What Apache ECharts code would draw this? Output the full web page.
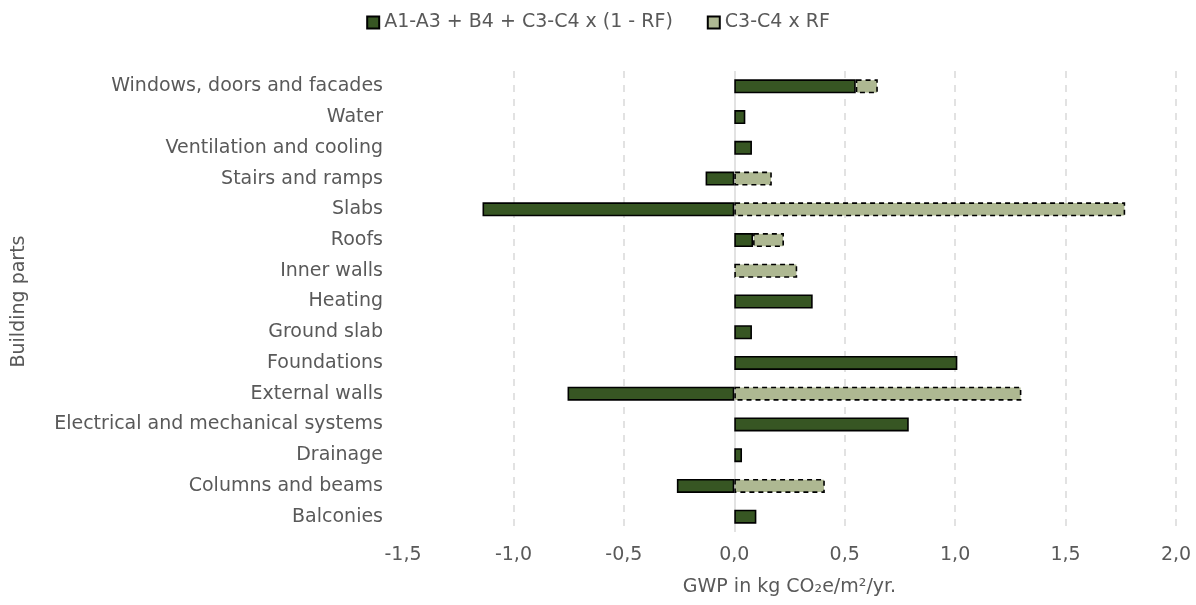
<!DOCTYPE html>
<html>
<head>
<meta charset="utf-8">
<script src="https://cdn.jsdelivr.net/npm/echarts@6/dist/echarts.min.js"></script>
<style>
  html, body { margin: 0; padding: 0; background: #fff; }
  #chart { width: 1196px; height: 605px; }
</style>
</head>
<body>
<div id="chart"></div>
<script>
// categories, top to bottom
const categories = [
  'Windows, doors and facades', 'Water', 'Ventilation and cooling', 'Stairs and ramps',
  'Slabs', 'Roofs', 'Inner walls', 'Heating', 'Ground slab', 'Foundations',
  'External walls', 'Electrical and mechanical systems', 'Drainage', 'Columns and beams', 'Balconies'
];
// A1-A3 + B4 + C3-C4 x (1 - RF)
const baseValues = [0.55, 0.05, 0.08, -0.13, -1.14, 0.085, null, 0.355, 0.08, 1.01, -0.755, 0.79, 0.035, -0.26, 0.10];
// C3-C4 x RF
const rfValues = [0.10, null, null, 0.17, 1.77, 0.14, 0.285, null, null, null, 1.30, null, null, 0.41, null];

const xTicks = { min: -1.5, max: 2.0, interval: 0.5 };

const FONT = '"DejaVu Sans", sans-serif';
const TXT = '#595959';
const FS = 19;

const chart = echarts.init(document.getElementById('chart'));

chart.setOption({
  animation: false,
  textStyle: { fontFamily: FONT },
  legend: {
    top: 8,
    left: 'center',
    icon: 'rect',
    itemWidth: 12,
    itemHeight: 12,
    itemGap: 34,
    textStyle: { fontSize: FS, color: TXT, fontFamily: FONT },
    data: ['A1-A3 + B4 + C3-C4 x (1 - RF)', 'C3-C4 x RF']
  },
  grid: { left: 403, right: 20, top: 71, bottom: 73 },
  xAxis: {
    type: 'value',
    min: xTicks.min,
    max: xTicks.max,
    interval: xTicks.interval,
    name: 'GWP in kg CO₂e/m²/yr.',
    nameLocation: 'middle',
    nameGap: 46,
    nameTextStyle: { fontSize: FS, color: TXT, fontFamily: FONT },
    axisLine: { show: false },
    axisTick: { show: false },
    axisLabel: {
      fontSize: FS, color: TXT, margin: 14,
      formatter: v => v.toFixed(1).replace('.', ',')
    },
    splitLine: {
      show: true,
      lineStyle: {
        type: [7, 7],
        width: 1.5,
        color: ['transparent', '#d9d9d9', '#d9d9d9', 'transparent', '#d9d9d9', '#d9d9d9', '#d9d9d9', '#d9d9d9']
      }
    }
  },
  yAxis: {
    type: 'category',
    inverse: true,
    data: categories,
    name: 'Building parts',
    nameLocation: 'middle',
    nameGap: 374,
    nameRotate: 90,
    nameTextStyle: { fontSize: FS, color: TXT, fontFamily: FONT },
    axisLine: { show: false },
    axisTick: { show: false },
    axisLabel: { fontSize: FS, color: TXT, margin: 20 }
  },
  series: [
    {
      name: 'A1-A3 + B4 + C3-C4 x (1 - RF)',
      type: 'bar',
      stack: 'gwp',
      barWidth: 14,
      data: baseValues,
      itemStyle: { color: '#375623', borderColor: '#000', borderWidth: 1.6 },
      markLine: {
        silent: true,
        symbol: 'none',
        label: { show: false },
        lineStyle: { color: '#d9d9d9', type: 'solid', width: 1.5 },
        data: [{ xAxis: 0 }],
        z: 1
      }
    },
    {
      name: 'C3-C4 x RF',
      type: 'bar',
      stack: 'gwp',
      barWidth: 14,
      data: rfValues,
      itemStyle: { color: '#aeb892', borderColor: '#000', borderWidth: 1.6, borderType: [5, 4] }
    }
  ]
});
</script>
</body>
</html>
